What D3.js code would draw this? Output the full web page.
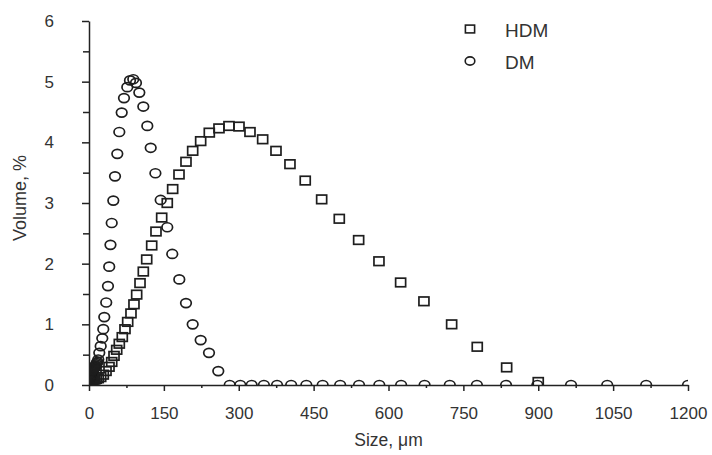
<!DOCTYPE html>
<html>
<head>
<meta charset="utf-8">
<script src="https://cdn.jsdelivr.net/npm/d3@7"></script>
<style>
  body { margin: 0; background: #fff; }
  svg text { font-family: "Liberation Sans", Arial, sans-serif; fill: #333; }
  .axis path, .axis line { stroke: #222; stroke-width: 1.5; }
</style>
</head>
<body>
<div id="chart"></div>
<script>
// HDM: size (um) and volume (%)
const hdmSize = [0.6, 0.9, 1.3, 1.8, 2.5, 3.3, 4.3, 5.5, 7, 9, 11.5, 14.5, 18.5, 23.4, 28.6, 34.1, 40.1, 45.5,
  50.1, 55.5, 60.7, 66.7, 72.1, 77.5, 84.1, 90.1, 95.5, 102.2, 108.8, 115.6, 125.6, 134.2, 145.6,
  156.8, 167.6, 180.3, 194.3, 207.7, 223.7, 241, 260.4, 280.4, 300.5, 322.5, 347.9, 374.6, 402.6,
  433.2, 466.1, 501.4, 540.2, 580.9, 624.3, 671, 726.5, 777.8, 836.7, 900];
const hdmVol = [0.04, 0.05, 0.05, 0.06, 0.06, 0.07, 0.07, 0.08, 0.08, 0.09, 0.09, 0.1, 0.11, 0.13, 0.17, 0.23, 0.3, 0.38,
  0.48, 0.58, 0.68, 0.79, 0.92, 1.04, 1.18, 1.33, 1.49, 1.68, 1.87, 2.07, 2.3, 2.53, 2.76,
  3.0, 3.23, 3.47, 3.68, 3.86, 4.02, 4.16, 4.23, 4.27, 4.26, 4.17, 4.05, 3.86, 3.64,
  3.37, 3.06, 2.74, 2.39, 2.04, 1.69, 1.38, 1.0, 0.63, 0.29, 0.05];

// DM: size (um) and volume (%)
const dmSize = [0.5, 0.7, 0.9, 1.1, 1.3, 1.5, 1.77, 1.91, 2.05, 2.2, 2.37, 2.55, 2.74, 2.94, 3.17, 3.4, 3.66,
  3.93, 4.23, 4.55, 4.89, 5.26, 5.65, 6.08, 6.53, 7.02, 7.55, 8.12, 8.73, 9.38, 10.08, 10.84, 11.66,
  12.53, 13.47, 14.48, 15.57, 16.74, 18.6, 20.6, 23.4, 26.6, 28.6, 30.6, 34.5, 38, 40.5, 43, 45.5,
  48.7, 52.1, 56.7, 60.7, 65.5, 70.1, 76.7, 82.1, 88.7, 94.1, 100.8, 108.8, 116.8, 123.6, 133,
  143.6, 156.8, 166.8, 180.9, 194.3, 207.7, 223.7, 240.4, 259, 281.9, 303.1, 325.9, 350.4, 376.7,
  405, 435.4, 468.1, 503.2, 541, 581.6, 625.3, 672.3, 722.8, 777.1, 835.5, 898.2, 965.7, 1038.2,
  1116.2, 1200];
const dmVol = [0.1, 0.11, 0.12, 0.13, 0.14, 0.15, 0.16, 0.16, 0.17, 0.17, 0.18, 0.18, 0.19, 0.19, 0.2, 0.2, 0.21,
  0.21, 0.22, 0.22, 0.23, 0.23, 0.24, 0.24, 0.25, 0.25, 0.26, 0.26, 0.27, 0.27, 0.28, 0.29, 0.3,
  0.31, 0.32, 0.34, 0.36, 0.38, 0.42, 0.53, 0.64, 0.77, 0.92, 1.12, 1.36, 1.63, 1.95, 2.31, 2.67,
  3.04, 3.44, 3.81, 4.17, 4.49, 4.73, 4.91, 5.02, 5.04, 4.98, 4.82, 4.59, 4.27, 3.91, 3.49,
  3.05, 2.6, 2.16, 1.74, 1.35, 1.0, 0.74, 0.53, 0.23, 0, 0, 0, 0, 0,
  0, 0, 0, 0, 0, 0, 0, 0, 0, 0, 0, 0, 0, 0,
  0, 0];

const xTicks = [0, 150, 300, 450, 600, 750, 900, 1050, 1200];
const xMinor = [75, 225, 375, 525, 675, 825, 975, 1125];
const yTicks = [0, 1, 2, 3, 4, 5, 6];
const yMinor = [0.5, 1.5, 2.5, 3.5, 4.5, 5.5];
const legendItems = ['HDM', 'DM'];

const width = 712;
const height = 455;
const margin = { top: 21, right: 24, bottom: 70, left: 89 };
const iw = width - margin.left - margin.right;
const ih = height - margin.top - margin.bottom;

const x = d3.scaleLinear().domain([0, 1200]).range([0, iw]);
const y = d3.scaleLinear().domain([0, 6]).range([ih, 0]);

const svgRoot = d3.select('#chart').append('svg')
  .attr('width', width)
  .attr('height', height);

svgRoot.append('defs').append('clipPath').attr('id', 'plot-clip')
  .append('rect').attr('x', 0).attr('y', 0).attr('width', iw).attr('height', ih);

const svg = svgRoot.append('g').attr('transform', `translate(${margin.left},${margin.top})`);

const hdm = hdmSize.map((s, i) => ({ s, v: hdmVol[i] }));
const dm = dmSize.map((s, i) => ({ s, v: dmVol[i] }));

const stroke = '#1e1e1e';
const marks = svg.append('g').attr('clip-path', 'url(#plot-clip)');

marks.append('g').selectAll('rect')
  .data(hdm)
  .join('rect')
  .attr('x', (d) => x(d.s) - 5)
  .attr('y', (d) => y(d.v) - 4.3)
  .attr('width', 10)
  .attr('height', 8.6)
  .attr('fill', 'none')
  .attr('stroke', stroke)
  .attr('stroke-width', 1.7);

marks.append('g').selectAll('ellipse')
  .data(dm)
  .join('ellipse')
  .attr('cx', (d) => x(d.s))
  .attr('cy', (d) => y(d.v))
  .attr('rx', 5.3)
  .attr('ry', 4.5)
  .attr('fill', 'none')
  .attr('stroke', stroke)
  .attr('stroke-width', 1.7);

// axes: minor ticks first, then labelled major ticks
svg.append('g').attr('class', 'axis')
  .attr('transform', `translate(0,${ih})`)
  .call(d3.axisBottom(x).tickValues(xMinor).tickSize(3).tickFormat(''))
  .call((g) => g.select('.domain').remove());

const xAxis = svg.append('g').attr('class', 'axis')
  .attr('transform', `translate(0,${ih})`)
  .call(d3.axisBottom(x).tickValues(xTicks).tickFormat(d3.format('d'))
    .tickSize(6).tickSizeOuter(0).tickPadding(16));
xAxis.selectAll('text').attr('font-size', 17).attr('fill', '#333');

svg.append('g').attr('class', 'axis')
  .call(d3.axisLeft(y).tickValues(yMinor).tickSize(6).tickFormat(''))
  .call((g) => g.select('.domain').remove());

const yAxis = svg.append('g').attr('class', 'axis')
  .call(d3.axisLeft(y).tickValues(yTicks).tickFormat(d3.format('d'))
    .tickSize(7).tickSizeOuter(0).tickPadding(28));
yAxis.selectAll('text').attr('font-size', 17).attr('fill', '#333');

svg.append('text')
  .attr('x', iw / 2)
  .attr('y', ih + 61)
  .attr('text-anchor', 'middle')
  .attr('font-size', 17.5)
  .text('Size, μm');

svg.append('text')
  .attr('transform', `translate(${-margin.left + 26},${ih / 2 - 5}) rotate(-90)`)
  .attr('text-anchor', 'middle')
  .attr('font-size', 18)
  .text('Volume, %');

// legend
const legend = svgRoot.append('g').attr('transform', 'translate(470,29)');
legend.append('rect')
  .attr('x', -4.6).attr('y', -3.9).attr('width', 9.2).attr('height', 7.8)
  .attr('fill', 'none').attr('stroke', stroke).attr('stroke-width', 1.6);
legend.append('ellipse')
  .attr('cx', 0).attr('cy', 32).attr('rx', 4.8).attr('ry', 4.1)
  .attr('fill', 'none').attr('stroke', stroke).attr('stroke-width', 1.6);
legend.selectAll('text.lbl')
  .data(legendItems)
  .join('text')
  .attr('class', 'lbl')
  .attr('x', 35)
  .attr('y', (d, i) => i * 32 + 8)
  .attr('font-size', 19)
  .text((d) => d);
</script>
</body>
</html>
